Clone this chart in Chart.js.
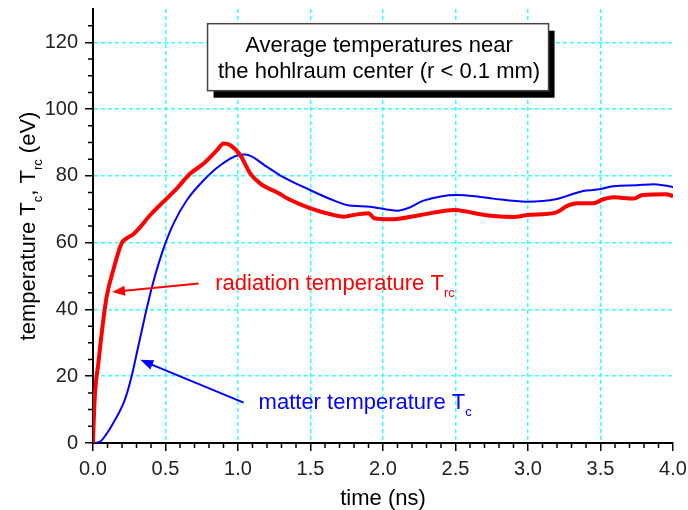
<!DOCTYPE html>
<html>
<head>
<meta charset="utf-8">
<script src="https://cdn.jsdelivr.net/npm/chart.js@4/dist/chart.umd.min.js"></script>
<style>
  html, body { margin: 0; padding: 0; background: #fff; }
  #wrap { width: 688px; height: 510px; }
</style>
</head>
<body>
<div id="wrap"><canvas id="temps" width="688" height="510"></canvas></div>
<script>
// radiation temperature T_rc (red)
const radTime = [0, 0.002, 0.014, 0.037, 0.06, 0.094, 0.14, 0.197, 0.232, 0.28, 0.312, 0.395, 0.51, 0.579, 0.671, 0.763, 0.855, 0.9, 0.947, 1.016, 1.085, 1.154, 1.29, 1.338, 1.5, 1.64, 1.73, 1.77, 1.9, 1.94, 2.05, 2.26, 2.49, 2.58, 2.67, 2.76, 2.90, 3.0, 3.19, 3.27, 3.34, 3.45, 3.52, 3.59, 3.73, 3.79, 3.95, 4.0];
const radTemp = [0, 3, 15, 23.9, 32.9, 43.8, 51.8, 59.8, 61.3, 62.6, 64.0, 68.3, 73.3, 76.3, 80.7, 83.7, 87.7, 89.7, 89.2, 86.2, 80.7, 77.7, 74.6, 73.3, 70.3, 68.5, 67.8, 68.1, 68.8, 67.3, 67.0, 68.3, 69.8, 69.3, 68.5, 68.0, 67.7, 68.3, 69.0, 71.0, 71.8, 71.8, 73.0, 73.6, 73.2, 74.3, 74.5, 74.0];

// matter temperature T_c (blue)
const matTime = [0, 0.045, 0.09, 0.14, 0.22, 0.266, 0.312, 0.358, 0.407, 0.453, 0.499, 0.556, 0.648, 0.763, 0.878, 1.0, 1.05, 1.2, 1.29, 1.5, 1.64, 1.75, 1.91, 2.1, 2.17, 2.28, 2.51, 2.67, 2.76, 2.99, 3.2, 3.29, 3.38, 3.48, 3.59, 3.75, 3.87, 4.0];
const matTemp = [0, 0.3, 2.5, 6, 13, 19.9, 28.9, 37.9, 46.8, 53.8, 59.8, 65.8, 72.8, 78.7, 83.2, 86.2, 86.4, 82.7, 80.2, 75.7, 73.0, 71.3, 70.8, 69.6, 70.3, 72.6, 74.3, 73.7, 73.2, 72.3, 73.1, 74.3, 75.5, 75.9, 76.9, 77.2, 77.5, 76.7];

const xTicks = [0, 0.5, 1.0, 1.5, 2.0, 2.5, 3.0, 3.5, 4.0];
const yTicks = [0, 20, 40, 60, 80, 100, 120];

const FONT = "'Liberation Sans', Arial, sans-serif";
const CYAN = '#33ffff';

function toPoints(xs, ys) {
    return xs.map((x, i) => ({ x: x, y: ys[i] }));
}

// text with a subscript, drawn piece by piece
function drawParts(ctx, parts, x, y, size) {
    let cx = x;
    parts.forEach(p => {
        const fs = p.sub ? Math.round(size * 0.6) : size;
        ctx.font = fs + 'px ' + FONT;
        ctx.fillText(p.t, cx, p.sub ? y + size * 0.32 : y);
        cx += ctx.measureText(p.t).width;
    });
    return cx - x;
}
function partsWidth(ctx, parts, size) {
    let w = 0;
    parts.forEach(p => {
        ctx.font = (p.sub ? Math.round(size * 0.6) : size) + 'px ' + FONT;
        w += ctx.measureText(p.t).width;
    });
    return w;
}

function arrow(ctx, x1, y1, x2, y2, color) {
    const ang = Math.atan2(y2 - y1, x2 - x1);
    const len = 13, half = 5;
    ctx.save();
    ctx.strokeStyle = color;
    ctx.fillStyle = color;
    ctx.lineWidth = 2;
    ctx.beginPath();
    ctx.moveTo(x1, y1);
    ctx.lineTo(x2 - Math.cos(ang) * len * 0.8, y2 - Math.sin(ang) * len * 0.8);
    ctx.stroke();
    ctx.beginPath();
    ctx.moveTo(x2, y2);
    ctx.lineTo(x2 - Math.cos(ang) * len - Math.sin(ang) * half, y2 - Math.sin(ang) * len + Math.cos(ang) * half);
    ctx.lineTo(x2 - Math.cos(ang) * len + Math.sin(ang) * half, y2 - Math.sin(ang) * len - Math.cos(ang) * half);
    ctx.closePath();
    ctx.fill();
    ctx.restore();
}

const decorations = {
    id: 'decorations',
    afterDraw(chart) {
        const ctx = chart.ctx;
        const xs = chart.scales.x, ys = chart.scales.y;
        const area = chart.chartArea;

        // minor ticks
        ctx.save();
        ctx.strokeStyle = '#000';
        ctx.lineWidth = 1.5;
        ctx.beginPath();
        for (let i = 1; i < 40; i++) {
            if (i % 5 === 0) continue;
            const px = xs.getPixelForValue(i / 10);
            ctx.moveTo(px, area.bottom);
            ctx.lineTo(px, area.bottom + 5);
        }
        for (let v = 5; v < 130; v += 5) {
            if (v % 20 === 0) continue;
            const py = ys.getPixelForValue(v);
            ctx.moveTo(area.left, py);
            ctx.lineTo(area.left - 5, py);
        }
        ctx.stroke();
        ctx.restore();

        // title box with shadow
        const bx = xs.getPixelForValue(0.79), by = ys.getPixelForValue(125.6);
        const bw = 341, bh = 67;
        ctx.save();
        ctx.fillStyle = '#000';
        ctx.fillRect(bx + 6, by + 7, bw, bh);
        ctx.fillStyle = '#fff';
        ctx.fillRect(bx, by, bw, bh);
        ctx.strokeStyle = '#444';
        ctx.lineWidth = 1.5;
        ctx.strokeRect(bx, by, bw, bh);
        ctx.fillStyle = '#000';
        ctx.font = '22px ' + FONT;
        ctx.textAlign = 'center';
        ctx.textBaseline = 'alphabetic';
        ctx.fillText('Average temperatures near', bx + bw / 2 + 1, by + 28);
        ctx.fillText('the hohlraum center (r < 0.1 mm)', bx + bw / 2 + 1, by + 54);
        ctx.restore();

        // annotations
        ctx.save();
        ctx.textAlign = 'left';
        ctx.textBaseline = 'alphabetic';
        arrow(ctx, xs.getPixelForValue(0.728), ys.getPixelForValue(47.8),
                   xs.getPixelForValue(0.131), ys.getPixelForValue(45.2), '#ff0000');
        ctx.fillStyle = '#ff0000';
        drawParts(ctx, [{ t: 'radiation temperature T' }, { t: 'rc', sub: true }],
                  xs.getPixelForValue(0.843), ys.getPixelForValue(45.8), 22);
        arrow(ctx, xs.getPixelForValue(1.039), ys.getPixelForValue(12.1),
                   xs.getPixelForValue(0.326), ys.getPixelForValue(24.9), '#0000ff');
        ctx.fillStyle = '#0000ff';
        drawParts(ctx, [{ t: 'matter temperature T' }, { t: 'c', sub: true }],
                  xs.getPixelForValue(1.142), ys.getPixelForValue(10.2), 22);
        ctx.restore();

        // axis titles
        ctx.save();
        ctx.fillStyle = '#000';
        ctx.font = '22px ' + FONT;
        ctx.textAlign = 'center';
        ctx.textBaseline = 'alphabetic';
        ctx.fillText('time (ns)', (area.left + area.right) / 2, 505);
        const yParts = [{ t: 'temperature T' }, { t: 'c', sub: true }, { t: ', T' }, { t: 'rc', sub: true }, { t: ' (eV)' }];
        const w = partsWidth(ctx, yParts, 22);
        ctx.translate(35, (area.top + area.bottom) / 2);
        ctx.rotate(-Math.PI / 2);
        ctx.textAlign = 'left';
        drawParts(ctx, yParts, -w / 2, 0, 22);
        ctx.restore();
    }
};

const noZero = (c) => (c.tick && (c.tick.value === 0 || c.tick.value === 4)) ? 'rgba(0,0,0,0)' : CYAN;

const chart = new Chart(document.getElementById('temps').getContext('2d'), {
    type: 'line',
    data: {
        datasets: [{
            label: 'radiation temperature',
            data: toPoints(radTime, radTemp),
            borderColor: '#ff0000',
            borderWidth: 4,
            pointRadius: 0,
            cubicInterpolationMode: 'monotone',
            fill: false
        }, {
            label: 'matter temperature',
            data: toPoints(matTime, matTemp),
            borderColor: '#0000ff',
            borderWidth: 2,
            pointRadius: 0,
            cubicInterpolationMode: 'monotone',
            fill: false
        }]
    },
    options: {
        responsive: false,
        animation: false,
        layout: { padding: { top: 9, right: 15, left: 0, bottom: 0 } },
        plugins: {
            legend: { display: false },
            tooltip: { enabled: false }
        },
        scales: {
            x: {
                type: 'linear',
                min: 0,
                max: 4,
                afterBuildTicks: (s) => { s.ticks = xTicks.map(v => ({ value: v })); },
                afterFit: (s) => { s.height = 67; s.paddingLeft = 0; s.paddingRight = 0; },
                grid: { color: noZero, lineWidth: 1.5, tickColor: '#000', tickLength: 8, tickWidth: 1.5 },
                border: { display: true, color: '#000', width: 2, dash: [4, 3] },
                ticks: {
                    padding: 6,
                    color: '#222',
                    font: { family: FONT, size: 20 },
                    maxRotation: 0,
                    callback: (v) => Number(v).toFixed(1)
                }
            },
            y: {
                type: 'linear',
                min: 0,
                max: 130,
                afterBuildTicks: (s) => { s.ticks = yTicks.map(v => ({ value: v })); },
                afterFit: (s) => { s.width = 93; s.paddingTop = 0; s.paddingBottom = 0; },
                grid: { color: noZero, lineWidth: 1.5, tickColor: '#000', tickLength: 8, tickWidth: 1.5 },
                border: { display: true, color: '#000', width: 2, dash: [4, 3] },
                ticks: {
                    padding: 7,
                    color: '#222',
                    font: { family: FONT, size: 20 },
                    callback: (v) => String(v)
                }
            }
        }
    },
    plugins: [decorations]
});
</script>
</body>
</html>
